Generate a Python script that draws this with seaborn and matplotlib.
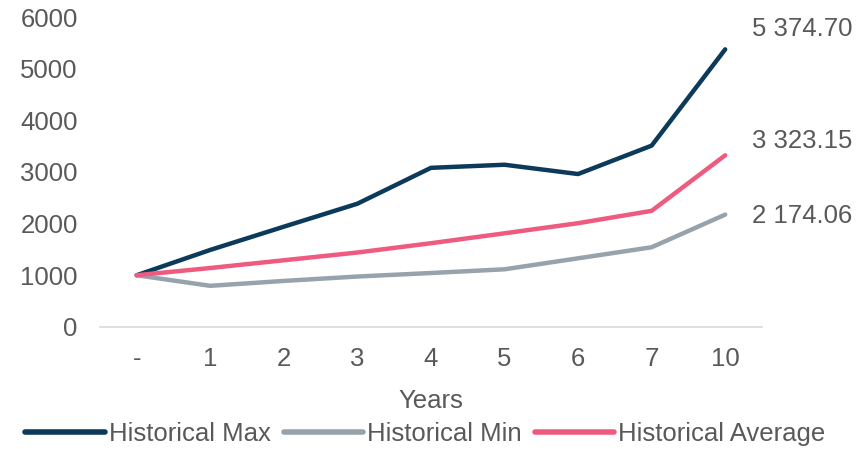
import matplotlib
matplotlib.use("Agg")
import matplotlib.pyplot as plt
import seaborn as sb
import pandas as pd

years = ["-", "1", "2", "3", "4", "5", "6", "7", "10"]
hist_max = [1000, 1490, 1940, 2385, 3080, 3140, 2960, 3510, 5374.70]
hist_min = [1000, 795, 890, 975, 1043, 1115, 1328, 1542, 2174.06]
hist_avg = [1000, 1140, 1290, 1440, 1620, 1812, 2008, 2247, 3323.15]
series_names = ["Historical Max", "Historical Min", "Historical Average"]
end_labels = ["5 374.70", "3 323.15", "2 174.06"]

colors = ["#0b3a5b", "#97a3ac", "#ef5b7f"]
text_color = "#595959"
fs = 18.5

sb.set_style("white")
plt.rcParams["font.family"] = ["Liberation Sans", "DejaVu Sans"]

rows = []
for name, vals in zip(series_names, [hist_max, hist_min, hist_avg]):
    for i, v in enumerate(vals):
        rows.append({"pos": i, "value": v, "series": name})
df = pd.DataFrame(rows)

fig = plt.figure(figsize=(8.61, 4.49), dpi=100)
ax = fig.add_axes([0.116, 0.272, 0.769, 0.69])

sb.lineplot(data=df, x="pos", y="value", hue="series", palette=colors,
            linewidth=3.2, ax=ax, legend=True)

# end-of-line value labels
offsets = [14.5, 10, -0.7]
last = len(years) - 1
for vals, lab, dy in zip([hist_max, hist_avg, hist_min], end_labels, offsets):
    ax.annotate(lab, (last, vals[-1]), xytext=(19, dy), textcoords="offset points",
                ha="left", va="center", fontsize=fs, color=text_color,
                annotation_clip=False)

ax.set_xlim(-0.5, len(years) - 0.5)
ax.set_ylim(0, 6000)
ax.set_yticks(range(0, 6001, 1000))
ax.set_xticks(range(len(years)))
ax.set_xticklabels(years)
ax.tick_params(axis="both", length=0, labelsize=fs, labelcolor=text_color)
ax.tick_params(axis="y", pad=16)
ax.tick_params(axis="x", pad=14.5)
ax.set_xlabel("Years", fontsize=fs, color=text_color, labelpad=13)
ax.set_ylabel("")

for s in ["top", "right", "left"]:
    ax.spines[s].set_visible(False)
ax.spines["bottom"].set_color("#d9d9d9")
ax.spines["bottom"].set_linewidth(1.2)

handles, labels = ax.get_legend_handles_labels()
ax.get_legend().remove()
leg = fig.legend(handles, labels, loc="center", bbox_to_anchor=(0.494, 0.034),
                 ncol=3, frameon=False, fontsize=fs, handlelength=3.1,
                 handletextpad=0.15, columnspacing=0.5, borderpad=0)
for t in leg.get_texts():
    t.set_color(text_color)
for h in leg.get_lines():
    h.set_linewidth(4)

fig.savefig("out.png", dpi=100)
plt.close(fig)
